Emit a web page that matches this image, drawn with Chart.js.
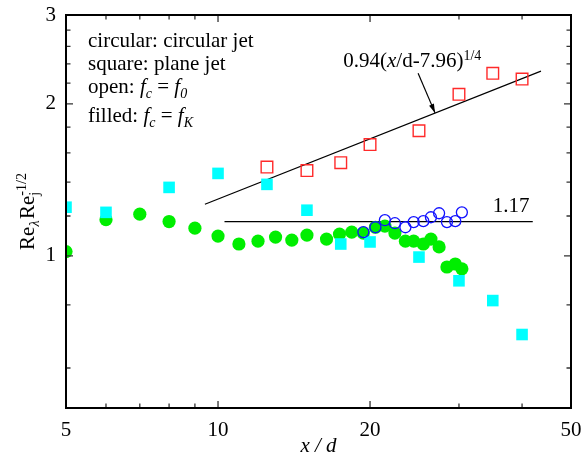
<!DOCTYPE html>
<html>
<head>
<meta charset="utf-8">
<script src="https://cdn.jsdelivr.net/npm/chart.js@4.4.0/dist/chart.umd.min.js"></script>
<style>
  html, body { margin: 0; padding: 0; background: #fff; }
</style>
</head>
<body>
<canvas id="chart" width="582" height="468"></canvas>
<script>
// Values (log-log axes)
// circular jet, f_c = f_K (green filled circles)
const circKX = [5.0, 6.0, 7.0, 8.0, 9.0, 10.0, 11.0, 12.0, 13.0, 14.0, 15.0, 16.4, 17.4, 18.4, 19.4, 20.5, 21.4, 22.4, 23.5, 24.4, 25.5, 26.4, 27.4, 28.4, 29.5, 30.4];
const circKY = [1.02, 1.18, 1.21, 1.17, 1.135, 1.095, 1.056, 1.07, 1.09, 1.075, 1.10, 1.08, 1.105, 1.115, 1.11, 1.14, 1.146, 1.11, 1.07, 1.07, 1.056, 1.08, 1.042, 0.951, 0.964, 0.943];
// circular jet, f_c = f_0 (blue open circles)
const circ0X = [19.4, 20.5, 21.4, 22.4, 23.5, 24.4, 25.5, 26.4, 27.4, 28.4, 29.5, 30.4];
const circ0Y = [1.115, 1.14, 1.177, 1.161, 1.14, 1.167, 1.172, 1.193, 1.215, 1.167, 1.172, 1.22];
// plane jet, f_c = f_0 (red open squares)
const plane0X = [12.5, 15, 17.5, 20, 25, 30, 35, 40];
const plane0Y = [1.50, 1.476, 1.53, 1.662, 1.77, 2.09, 2.30, 2.24];
// plane jet, f_c = f_K (cyan filled squares)
const planeKX = [5, 6, 8, 10, 12.5, 15, 17.5, 20, 25, 30, 35, 40];
const planeKY = [1.249, 1.22, 1.367, 1.457, 1.386, 1.232, 1.056, 1.066, 0.995, 0.893, 0.816, 0.699];

// reference lines
const fitX = [9.42, 43.6];
const fitY = [1.266, 2.323];
const flatX = [10.3, 42.0];
const flatY = [1.17, 1.17];
// arrow pointing at the fit line
const arrowX = [24.9, 26.9];
const arrowY = [2.30, 1.92];

// axis ticks
const xTicks = [5, 6, 7, 8, 9, 10, 20, 30, 40, 50];
const xLabels = [5, 10, 20, 50];
const yTicks = [0.5, 0.6, 0.8, 1, 1.2, 1.4, 1.6, 1.8, 2, 2.2, 2.4, 2.6, 2.8, 3];
const yLabels = [1, 2, 3];

const SERIF = "'Liberation Serif', 'DejaVu Serif', serif";
Chart.defaults.font.family = SERIF;
Chart.defaults.color = '#000';

const pts = (xs, ys) => xs.map((x, i) => ({ x: x, y: ys[i] }));
const has = (list, v) => list.some(t => Math.abs(t - v) < 1e-9);

// draw a run of [text, size, style, dy, noAdvance] pieces starting at x
function drawRun(ctx, x, y, parts) {
  ctx.textBaseline = 'alphabetic';
  ctx.textAlign = 'left';
  for (const p of parts) {
    ctx.font = (p[2] || '') + ' ' + p[1] + 'px ' + SERIF;
    ctx.fillText(p[0], x, y + (p[3] || 0));
    if (!p[4]) x += ctx.measureText(p[0]).width;
  }
  return x;
}
function runWidth(ctx, parts) {
  let w = 0;
  for (const p of parts) {
    ctx.font = (p[2] || '') + ' ' + p[1] + 'px ' + SERIF;
    if (!p[4]) w += ctx.measureText(p[0]).width;
  }
  return w;
}

const decor = {
  id: 'decor',
  afterDatasetsDraw(chart) {
    const { ctx, chartArea: a, scales: { x, y } } = chart;
    ctx.save();
    // tick marks, inside, on all four sides
    ctx.strokeStyle = '#333';
    ctx.lineWidth = 1.3;
    ctx.beginPath();
    xTicks.forEach(v => {
      const px = x.getPixelForValue(v);
      const len = has([10, 20], v) ? 7 : 4.5;
      ctx.moveTo(px, a.bottom); ctx.lineTo(px, a.bottom - len);
      ctx.moveTo(px, a.top); ctx.lineTo(px, a.top + len);
    });
    yTicks.forEach(v => {
      const py = y.getPixelForValue(v);
      const len = has([1, 2], v) ? 7 : 4.5;
      ctx.moveTo(a.left, py); ctx.lineTo(a.left + len, py);
      ctx.moveTo(a.right, py); ctx.lineTo(a.right - len, py);
    });
    ctx.stroke();
    // frame
    ctx.strokeStyle = '#000';
    ctx.lineWidth = 2;
    ctx.strokeRect(a.left, a.top, a.right - a.left, a.bottom - a.top);

    // arrow
    const x1 = x.getPixelForValue(arrowX[0]), y1 = y.getPixelForValue(arrowY[0]);
    const x2 = x.getPixelForValue(arrowX[1]), y2 = y.getPixelForValue(arrowY[1]);
    ctx.lineWidth = 1.2;
    ctx.beginPath(); ctx.moveTo(x1, y1); ctx.lineTo(x2, y2); ctx.stroke();
    const ang = Math.atan2(y2 - y1, x2 - x1);
    ctx.fillStyle = '#000';
    ctx.beginPath();
    ctx.moveTo(x2, y2);
    ctx.lineTo(x2 - 9 * Math.cos(ang) + 2.6 * Math.sin(ang), y2 - 9 * Math.sin(ang) - 2.6 * Math.cos(ang));
    ctx.lineTo(x2 - 9 * Math.cos(ang) - 2.6 * Math.sin(ang), y2 - 9 * Math.sin(ang) + 2.6 * Math.cos(ang));
    ctx.closePath(); ctx.fill();

    // annotations
    drawRun(ctx, x.getPixelForValue(17.7), y.getPixelForValue(2.366), [
      ['0.94(', 21], ['x', 21, 'italic'], ['/d-7.96)', 21], ['1/4', 14, '', -7]
    ]);
    drawRun(ctx, x.getPixelForValue(35.0), y.getPixelForValue(1.22), [['1.17', 21]]);

    // legend text
    const lx = a.left + 22;
    drawRun(ctx, lx, a.top + 32, [['circular: circular jet', 21]]);
    drawRun(ctx, lx, a.top + 55, [['square: plane jet', 21]]);
    drawRun(ctx, lx, a.top + 78, [['open: ', 21], ['f', 21, 'italic'], ['c', 14, 'italic', 5], [' = ', 21], ['f', 21, 'italic'], ['0', 14, 'italic', 5]]);
    drawRun(ctx, lx, a.top + 107, [['filled: ', 21], ['f', 21, 'italic'], ['c', 14, 'italic', 5], [' = ', 21], ['f', 21, 'italic'], ['K', 14, 'italic', 5]]);

    // y-axis title, rotated
    const parts = [['Re', 21], ['\u03bb', 14, 'italic', 5], [' ', 6], ['Re', 21], ['j', 14, '', 5, true], ['-1/2', 14, '', -8]];
    const w = runWidth(ctx, parts);
    ctx.translate(34, (a.top + a.bottom) / 2);
    ctx.rotate(-Math.PI / 2);
    drawRun(ctx, -w / 2, 0, parts);
    ctx.restore();
  }
};

new Chart(document.getElementById('chart'), {
  type: 'scatter',
  data: {
    datasets: [
      { data: pts(circ0X, circ0Y), pointStyle: 'circle', pointRadius: 5.5, borderWidth: 1.3,
        borderColor: '#1010ff', backgroundColor: 'rgba(0,0,0,0)', clip: 0 },
      { data: pts(plane0X, plane0Y), pointStyle: 'rect', pointRadius: 8.2, borderWidth: 1.4,
        borderColor: '#ff2a2a', backgroundColor: 'rgba(0,0,0,0)', clip: 0 },
      { data: pts(planeKX, planeKY), pointStyle: 'rect', pointRadius: 8.2, borderWidth: 0,
        borderColor: '#00ffff', backgroundColor: '#00ffff', clip: 0 },
      { data: pts(circKX, circKY), pointStyle: 'circle', pointRadius: 6.6, borderWidth: 0,
        borderColor: '#00ee00', backgroundColor: '#00ee00', clip: 0 },
      { data: pts(fitX, fitY), showLine: true, pointRadius: 0, borderWidth: 1.2,
        borderColor: '#000', clip: 0 },
      { data: pts(flatX, flatY), showLine: true, pointRadius: 0, borderWidth: 1.2,
        borderColor: '#000', clip: 0 }
    ]
  },
  options: {
    responsive: false,
    animation: false,
    devicePixelRatio: 1,
    layout: { padding: { left: 0, right: 11, top: 15, bottom: 0 } },
    plugins: { legend: { display: false }, tooltip: { enabled: false } },
    scales: {
      x: {
        type: 'logarithmic', min: 5, max: 50,
        grid: { display: false, drawTicks: false },
        border: { display: false },
        afterBuildTicks: s => { s.ticks = xTicks.map(v => ({ value: v })); },
        afterFit: s => { s.height = 60; s.paddingLeft = 0; s.paddingRight = 0; },
        ticks: {
          autoSkip: false, maxRotation: 0, padding: 10,
          font: { size: 21 },
          callback: v => has(xLabels, v) ? String(v) : ''
        },
        title: { display: true, text: 'x / d', font: { size: 21, style: 'italic' }, padding: { top: 0, bottom: 9 } }
      },
      y: {
        type: 'logarithmic', min: 0.5, max: 3,
        grid: { display: false, drawTicks: false },
        border: { display: false },
        afterBuildTicks: s => { s.ticks = yTicks.map(v => ({ value: v })); },
        afterFit: s => { s.width = 66; s.paddingTop = 0; s.paddingBottom = 0; },
        ticks: {
          autoSkip: false, padding: 10,
          font: { size: 21 },
          callback: v => has(yLabels, v) ? String(v) : ''
        }
      }
    }
  },
  plugins: [decor]
});
</script>
</body>
</html>
